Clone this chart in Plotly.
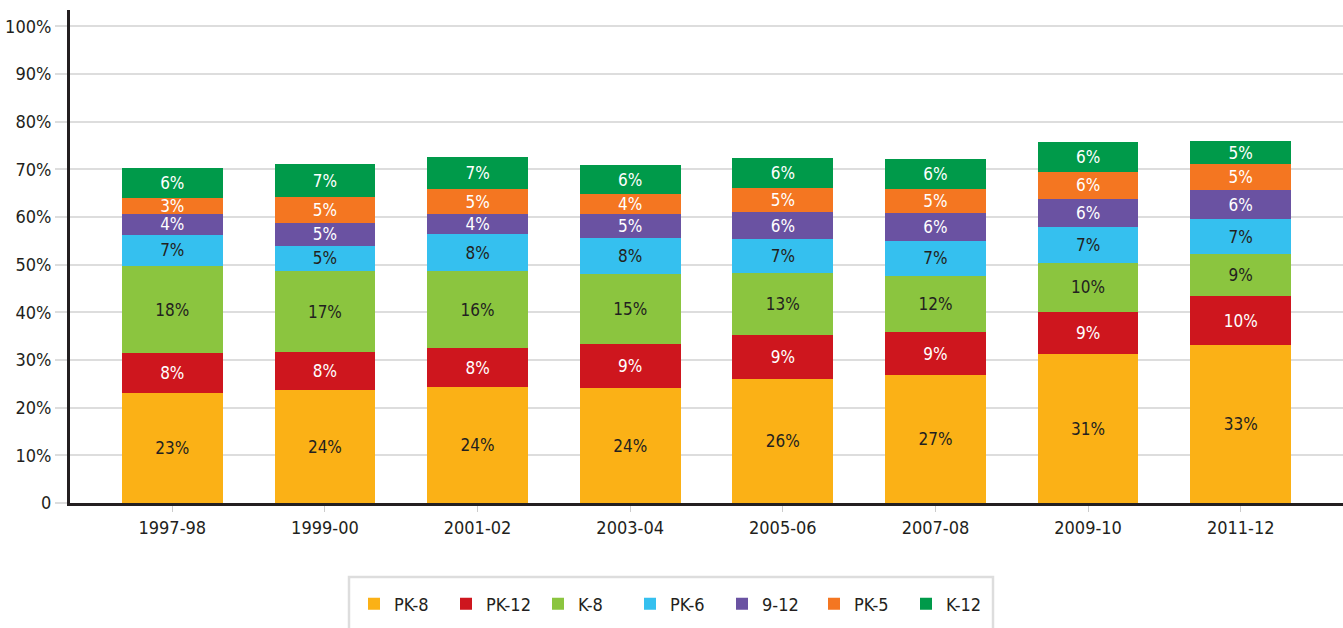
import plotly.graph_objects as go

years = ["1997-98", "1999-00", "2001-02", "2003-04", "2005-06", "2007-08", "2009-10", "2011-12"]

pk8  = [23.1, 23.7, 24.3, 24.1, 26.0, 26.8, 31.2, 33.1]
pk12 = [8.3, 8.0, 8.2, 9.2, 9.2, 9.0, 8.8, 10.3]
k8   = [18.3, 16.9, 16.1, 14.7, 13.0, 11.8, 10.4, 8.8]
pk6  = [6.6, 5.4, 7.8, 7.6, 7.1, 7.4, 7.4, 7.3]
g912 = [4.3, 4.7, 4.2, 5.0, 5.7, 5.9, 6.0, 6.1]
pk5  = [3.4, 5.4, 5.2, 4.2, 5.0, 5.0, 5.7, 5.4]
k12  = [6.2, 6.9, 6.7, 6.1, 6.3, 6.3, 6.3, 5.0]

series = [
    ("PK-8", pk8, "#FBB116", "#231F20"),
    ("PK-12", pk12, "#CE161E", "#FFFFFF"),
    ("K-8", k8, "#8BC53F", "#231F20"),
    ("PK-6", pk6, "#35C0EF", "#231F20"),
    ("9-12", g912, "#6A52A2", "#FFFFFF"),
    ("PK-5", pk5, "#F47621", "#FFFFFF"),
    ("K-12", k12, "#009A4A", "#FFFFFF"),
]

ytick_vals = [0, 10, 20, 30, 40, 50, 60, 70, 80, 90, 100]
ytick_text = ["0", "10%", "20%", "30%", "40%", "50%", "60%", "70%", "80%", "90%", "100%"]

FONT = "Liberation Sans Narrow, DejaVu Sans Condensed, Roboto Condensed, Arial Narrow, sans-serif"

fig = go.Figure()
for name, vals, color, tcolor in series:
    fig.add_trace(go.Bar(
        name=name, x=years, y=vals,
        marker=dict(color=color, line=dict(width=0)),
        texttemplate="%{y:.0f}%",
        textposition="inside", insidetextanchor="middle", textangle=0,
        textfont=dict(color=tcolor, size=17, family=FONT),
        hoverinfo="skip",
    ))

L, R, T, B = 70, 0, 10, 125
W, H = 1343, 628
pw = W - L - R
ph = H - T - B

def px_x(x):
    return (x - L) / pw

def px_y(y):
    return (H - B - y) / ph

fig.update_layout(
    barmode="stack",
    bargap=0.34,
    width=W, height=H,
    margin=dict(l=L, r=R, t=T, b=B, pad=0),
    paper_bgcolor="white", plot_bgcolor="white",
    font=dict(family=FONT, size=18, color="#231F20"),
    uniformtext=dict(minsize=17, mode="show"),
    showlegend=True,
    legend=dict(
        orientation="h", x=px_x(676), xanchor="center", y=px_y(604), yanchor="middle",
        font=dict(size=18, family=FONT, color="#231F20"),
        bgcolor="rgba(0,0,0,0)", borderwidth=0, traceorder="normal",
        itemwidth=30, entrywidth=47, entrywidthmode="pixels",
    ),
    xaxis=dict(
        type="category",
        range=[-0.67, 7.67], showgrid=False, zeroline=False,
        showline=True, linecolor="#231F20", linewidth=3,
        ticks="outside", ticklen=6, tickcolor="#CCCCCC", tickwidth=1,
        tickfont=dict(size=18, family=FONT, color="#231F20"),
        fixedrange=True,
    ),
    yaxis=dict(
        range=[0, 103.4], tickvals=ytick_vals, ticktext=ytick_text,
        showgrid=True, gridcolor="#DDDDDD", gridwidth=1.5, zeroline=False,
        showline=True, linecolor="#231F20", linewidth=3,
        ticks="outside", ticklen=12, tickcolor="#DDDDDD", tickwidth=1.5,
        tickfont=dict(size=18, family=FONT, color="#231F20"),
        fixedrange=True,
    ),
    shapes=[dict(
        type="rect", xref="paper", yref="paper",
        x0=px_x(349), x1=px_x(993), y0=px_y(640), y1=px_y(577),
        line=dict(color="#DDDDDD", width=2.5), fillcolor="rgba(0,0,0,0)", layer="below",
    )],
)

fig.write_html("out.html", config={"displayModeBar": False},
               post_script="document.body.style.margin='0';document.body.style.padding='0';")
